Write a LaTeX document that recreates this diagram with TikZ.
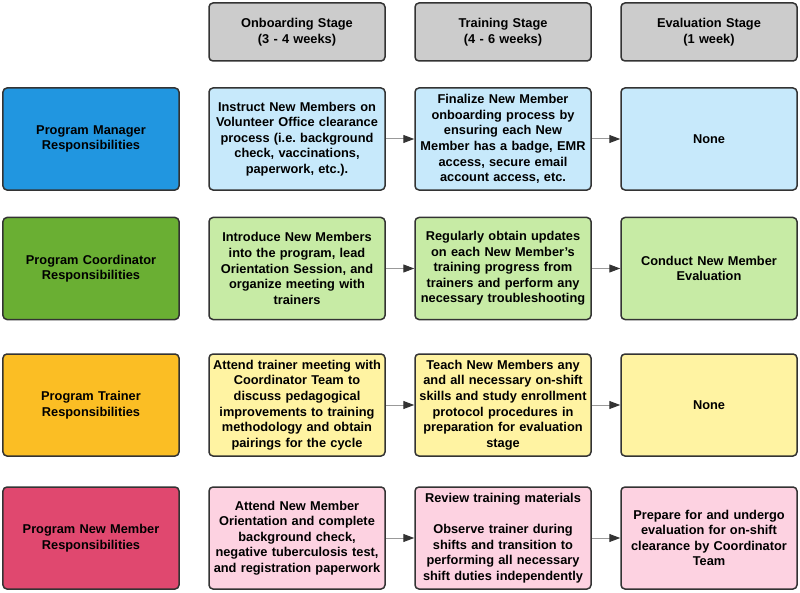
\documentclass[tikz,border=0pt]{standalone}
\usepackage{fontspec}
\setmainfont{Liberation Sans}
\usetikzlibrary{arrows.meta}
\frenchspacing
\definecolor{hdrgray}{HTML}{CCCCCC}
\definecolor{mgrdark}{HTML}{2196E0}
\definecolor{mgrlight}{HTML}{C7E9FB}
\definecolor{coodark}{HTML}{6AAF33}
\definecolor{coolight}{HTML}{C7EBA5}
\definecolor{trndark}{HTML}{FBBE24}
\definecolor{trnlight}{HTML}{FFF3A2}
\definecolor{nmdark}{HTML}{E0486F}
\definecolor{nmlight}{HTML}{FDD2E1}
\definecolor{edge}{HTML}{333333}
\definecolor{linkgray}{HTML}{999999}
\tikzset{
  cell/.style={draw=edge, line width=1.5bp, rounded corners=4bp,
    minimum width=176bp, minimum height=102bp, text width=174bp,
    align=center, inner sep=0pt, text=black,
    font=\bfseries\fontsize{12.8bp}{15.6bp}\selectfont},
  hdr/.style={cell, fill=hdrgray, minimum height=58bp},
  link/.style={draw=linkgray, line width=1bp, -{Triangle[length=11bp,width=8bp,color=black!80]}}
}
\begin{document}
\begin{tikzpicture}[x=1bp,y=-1bp]
\useasboundingbox (0,0) rectangle (800,593);
% headers
\node[hdr] (h1) at (297,32) {Onboarding Stage\\(3 - 4 weeks)};
\node[hdr] (h2) at (503,32) {Training Stage\\(4 - 6 weeks)};
\node[hdr] (h3) at (709,32) {Evaluation Stage\\(1 week)};
% row 1
\node[cell, fill=mgrdark] (a0) at (91,139) {Program Manager\\Responsibilities};
\node[cell, fill=mgrlight] (a1) at (297,139) {Instruct New Members on\\Volunteer Office clearance\\process (i.e. background\\check, vaccinations,\\paperwork, etc.).};
\node[cell, fill=mgrlight] (a2) at (503,139) {Finalize New Member\\onboarding process by\\ensuring each New\\Member has a badge, EMR\\access, secure email\\account access, etc.};
\node[cell, fill=mgrlight] (a3) at (709,139) {None};
% row 2
\node[cell, fill=coodark] (b0) at (91,268.5) {Program Coordinator\\Responsibilities};
\node[cell, fill=coolight] (b1) at (297,268.5) {Introduce New Members\\into the program, lead\\Orientation Session, and\\organize meeting with\\trainers};
\node[cell, fill=coolight] (b2) at (503,268.5) {Regularly obtain updates\\on each New Member{\char"0027}s\\training progress from\\trainers and perform any\\necessary troubleshooting};
\node[cell, fill=coolight] (b3) at (709,268.5) {Conduct New Member\\Evaluation};
% row 3
\node[cell, fill=trndark] (c0) at (91,405) {Program Trainer\\Responsibilities};
\node[cell, fill=trnlight] (c1) at (297,405) {Attend trainer meeting with\\Coordinator Team to\\discuss pedagogical\\improvements to training\\methodology and obtain\\pairings for the cycle};
\node[cell, fill=trnlight] (c2) at (503,405) {Teach New Members any\\and all necessary on-shift\\skills and study enrollment\\protocol procedures in\\preparation for evaluation\\stage};
\node[cell, fill=trnlight] (c3) at (709,405) {None};
% row 4
\node[cell, fill=nmdark] (d0) at (91,538) {Program New Member\\Responsibilities};
\node[cell, fill=nmlight] (d1) at (297,538) {Attend New Member\\Orientation and complete\\background check,\\negative tuberculosis test,\\and registration paperwork};
\node[cell, fill=nmlight] (d2) at (503,538) {Review training materials\\[15.6bp]Observe trainer during\\shifts and transition to\\performing all necessary\\shift duties independently};
\node[cell, fill=nmlight] (d3) at (709,538) {Prepare for and undergo\\evaluation for on-shift\\clearance by Coordinator\\Team};
% connectors
\draw[link] (a1) -- (a2);
\draw[link] (a2) -- (a3);
\draw[link] (b1) -- (b2);
\draw[link] (b2) -- (b3);
\draw[link] (c1) -- (c2);
\draw[link] (c2) -- (c3);
\draw[link] (d1) -- (d2);
\draw[link] (d2) -- (d3);
\end{tikzpicture}
\end{document}
